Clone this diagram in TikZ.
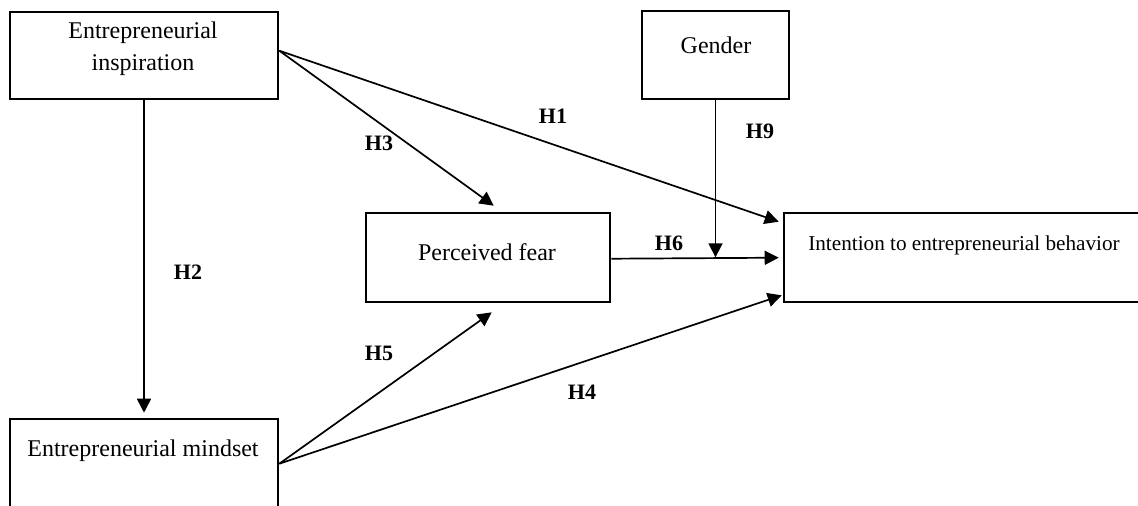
\documentclass[tikz,border=0pt]{standalone}
\usepackage{fontspec}
\setmainfont{Liberation Serif}
\usetikzlibrary{calc,arrows.meta}
\begin{document}
\begin{tikzpicture}[x=0.5pt,y=-0.5pt,
  box/.style={draw,line width=1.3pt,inner sep=0pt,rectangle},
  txt/.style={align=center,inner sep=0pt,font=\fontsize{12}{16}\selectfont},
  hyp/.style={inner sep=0pt,font=\fontsize{11}{13}\selectfont\bfseries},
  arr/.style={line width=0.85pt,-{Triangle[length=7pt,width=7pt]}}]
\useasboundingbox (0,0) rectangle (1138,505);
% boxes
\node[box,minimum width=134pt,minimum height=43.5pt] (insp) at (144,55.5) {};
\node[box,minimum width=73.5pt,minimum height=44pt] (gender) at (715.5,55) {};
\node[box,minimum width=122pt,minimum height=44.5pt] (fear) at (488,257.5) {};
\node[box,minimum width=179pt,minimum height=44.5pt] (int) at (963,257.5) {};
\node[box,minimum width=134pt,minimum height=44.5pt] (mind) at (144,463.5) {};
% texts
\node[txt] (insptext) at (143,48.5) {Entrepreneurial\\inspiration};
\node[txt] (gendertext) at (716,45) {Gender};
\node[txt] (feartext) at (487,252) {Perceived fear};
\node[txt,font=\fontsize{10.6}{13}\selectfont] (inttext) at (964,245) {Intention to entrepreneurial behavior};
\node[txt] (mindtext) at (143,451) {Entrepreneurial mindset};
% arrows
\draw[arr,shorten >=2.5pt] (insp.south) -- (mind.north);
\draw[arr] ($(insp.north east)+(0,40)$) -- ($(fear.north west)+(129,-6)$);
\draw[arr] ($(insp.north east)+(0,40)$) -- ($(int.north west)+(-4,10)$);
\draw[arr] ($(fear.north east)+(0,47)$) -- ($(int.north west)+(-4,46)$);
\draw[arr] (gender.south) -- ($(gender.south)+(0,157)$);
\draw[arr] ($(mind.north east)+(0,46)$) -- ($(fear.south west)+(127,9)$);
\draw[arr] ($(mind.north east)+(0,46)$) -- ($(int.south west)+(-1,-8)$);
% labels
\node[hyp] (h1) at (553,116) {H1};
\node[hyp] (h2) at (188,272) {H2};
\node[hyp] (h3) at (379,143) {H3};
\node[hyp] (h4) at (582,392) {H4};
\node[hyp] (h5) at (379,353) {H5};
\node[hyp] (h6) at (669,243) {H6};
\node[hyp] (h9) at (760,131) {H9};
\end{tikzpicture}
\end{document}
